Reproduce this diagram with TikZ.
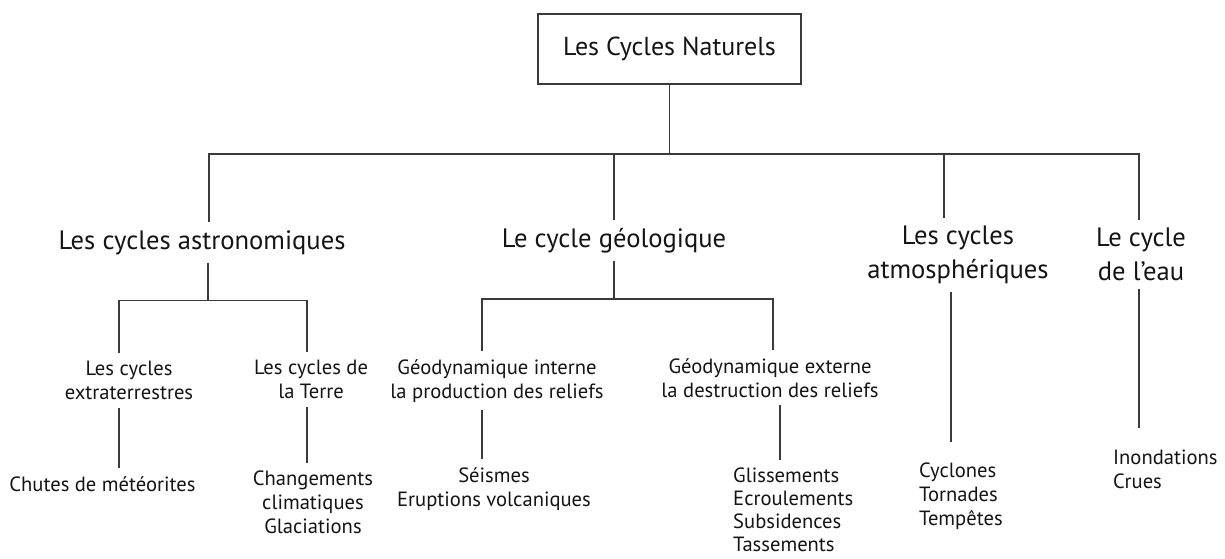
\documentclass[tikz,border=0pt]{standalone}
\usepackage{fontspec}
\setmainfont{PT Sans}
\usetikzlibrary{positioning}
\definecolor{linegray}{HTML}{3A3A3A}
\definecolor{inkgray}{HTML}{141414}

\begin{document}
\begin{tikzpicture}[
    x=1pt, y=-1pt,
    rootbox/.style={rectangle, draw=linegray, line width=1.6pt, minimum width=263pt, minimum height=70pt, text=inkgray, font=\fontsize{26}{30}\selectfont},
    cycle/.style={anchor=north, align=center, inner xsep=0pt, inner ysep=8pt, text=inkgray, font=\fontsize{26.6}{34}\selectfont},
    branch/.style={anchor=north, align=center, inner xsep=0pt, inner ysep=8pt, text=inkgray, font=\fontsize{20.6}{24}\selectfont},
    effectlist/.style={branch, anchor=north west, align=left},
    link/.style={draw=linegray, line width=1.6pt}
]
\useasboundingbox (0,0) rectangle (1225,559);

% root
\node[rootbox] (root) at (669.5,49) {Les Cycles Naturels};

% junctions
\coordinate (bus-astro) at (209,154);
\coordinate (bus-geo) at (614,154);
\coordinate (bus-atmo) at (944,154);
\coordinate (bus-eau) at (1139,154);
\coordinate (j-astro) at (208,300.5);
\coordinate (j-extra) at (119,300.5);
\coordinate (j-terre) at (307,300.5);
\coordinate (j-geo) at (614,299);
\coordinate (j-interne) at (482,299);
\coordinate (j-externe) at (773,299);
\coordinate (externe-x) at (780,299);
\coordinate (atmo-x) at (951,299);

% first level
\node[cycle] (astro) at (202,222) {Les cycles astronomiques};
\node[cycle] (geo) at (614,220) {Le cycle géologique};
\node[cycle] (atmo) at (958,218) {Les cycles\\atmosphériques};
\node[cycle] (eau) at (1141,220) {Le cycle\\de l’eau};

% second level
\node[branch] (extra) at (129,353) {Les cycles\\extraterrestres};
\node[branch] (terre) at (311,352) {Les cycles de\\la Terre};
\node[branch] (interne) at (497,351) {Géodynamique interne\\la production des reliefs};
\node[branch] (externe) at (770,350) {Géodynamique externe\\la destruction des reliefs};

% effects
\node[branch] (chutes) at (102.5,468) {Chutes de météorites};
\node[branch] (climat) at (313,463) {Changements\\climatiques\\Glaciations};
\node[branch] (seismes) at (494,459) {Séismes\\Eruptions volcaniques};
\node[effectlist, font=\fontsize{20.6}{23}\selectfont] (glis) at (733,460) {Glissements\\Ecroulements\\Subsidences\\Tassements};
\node[effectlist, inner ysep=21pt] (cyclones) at (919,442) {Cyclones\\Tornades\\Tempêtes};
\node[effectlist, inner ysep=22pt] (inond) at (1113,428) {Inondations\\Crues};

% main tree
\draw[link] (root.south) -- (root.south |- bus-geo);
\draw[link] (bus-astro |- astro.north) -- (bus-astro) -- (bus-eau) -- (bus-eau |- eau.north);
\draw[link] (bus-geo) -- (bus-geo |- geo.north);
\draw[link] (bus-atmo) -- (bus-atmo |- atmo.north);

% astronomiques
\draw[link] (astro.south -| j-astro) -- (j-astro);
\draw[link] (j-extra |- extra.north) -- (j-extra) -- (j-terre) -- (j-terre |- terre.north);
\draw[link] (extra.south -| j-extra) -- (chutes.north -| j-extra);
\draw[link] (terre.south -| j-terre) -- (climat.north -| j-terre);

% geologique
\draw[link] (geo.south -| j-geo) -- (j-geo);
\draw[link] (j-interne |- interne.north) -- (j-interne) -- (j-externe) -- (j-externe |- externe.north);
\draw[link] (interne.south -| j-interne) -- (seismes.north -| j-interne);
\draw[link] (externe.south -| externe-x) -- (glis.north -| externe-x);

% atmosphere, eau
\draw[link] (atmo.south -| atmo-x) -- (cyclones.north -| atmo-x);
\draw[link] (eau.south -| bus-eau) -- (inond.north -| bus-eau);
\end{tikzpicture}
\end{document}
